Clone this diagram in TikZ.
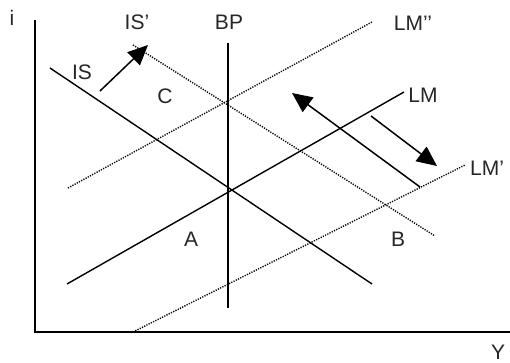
\documentclass[tikz,border=0pt]{standalone}
\usepackage{fontspec}
\setmainfont{Liberation Sans}
\usetikzlibrary{arrows.meta}
\begin{document}
\begin{tikzpicture}[x=1pt,y=-1pt,
  axisline/.style={line width=2pt},
  curve/.style={line width=1.4pt},
  dotcurve/.style={line width=1.4pt, dash pattern=on 1.2pt off 1.3pt},
  shiftarrow/.style={line width=1.5pt, -{Triangle[length=20pt,width=18pt]}},
  lbl/.style={font=\fontsize{21}{21}\selectfont, inner sep=0pt, text=black!85}]
\useasboundingbox (0,0) rectangle (510,363);

% axes
\coordinate (ytop) at (35,20);
\coordinate (org) at (35,332);
\coordinate (xend) at (510,332);
\draw[axisline] (ytop) -- (org) -- (xend);

% curve end points
\coordinate (is1) at (50,68);    \coordinate (is2) at (372,284);
\coordinate (isp1) at (133,45);  \coordinate (isp2) at (435,236);
\coordinate (bp1) at (228,43);   \coordinate (bp2) at (228,308);
\coordinate (lm1) at (67,284);   \coordinate (lm2) at (404,92);
\coordinate (lmp1) at (133,332); \coordinate (lmp2) at (465,165);
\coordinate (lmpp1) at (68,188); \coordinate (lmpp2) at (372,22);

\draw[curve] (is1) -- (is2);
\draw[curve] (bp1) -- (bp2);
\draw[curve] (lm1) -- (lm2);
\draw[dotcurve] (isp1) -- (isp2);
\draw[dotcurve] (lmp1) -- (lmp2);
\draw[dotcurve] (lmpp1) -- (lmpp2);

% shift arrows
\coordinate (a1s) at (100,91);  \coordinate (a1e) at (148,45);
\coordinate (a2s) at (420,187); \coordinate (a2e) at (292,93);
\coordinate (a3s) at (371,116); \coordinate (a3e) at (437,166);
\draw[shiftarrow] (a1s) -- (a1e);
\draw[shiftarrow] (a2s) -- (a2e);
\draw[shiftarrow] (a3s) -- (a3e);

% labels
\node[lbl] (li) at (12,18) {i};
\node[lbl] (lY) at (498,352) {Y};
\node[lbl] (lisp) at (137,22) {IS’};
\node[lbl] (lbp) at (229,22) {BP};
\node[lbl] (lis) at (82,72) {IS};
\node[lbl] (lc) at (165,96) {C};
\node[lbl] (llmpp) at (413,23) {LM’’};
\node[lbl] (llm) at (423,95) {LM};
\node[lbl] (llmp) at (487,168) {LM’};
\node[lbl] (la) at (191,239) {A};
\node[lbl] (lb) at (398,239) {B};
\end{tikzpicture}
\end{document}
